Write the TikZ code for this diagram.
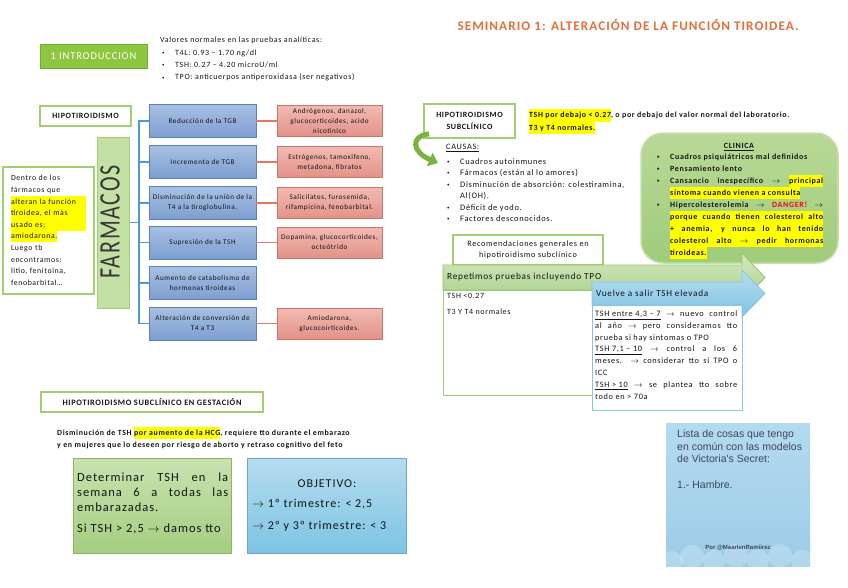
\documentclass[tikz,border=0pt]{standalone}
\usepackage{graphicx}
\usepackage{fontspec}
\setmainfont{Carlito}[LetterSpace=8]
\newfontfamily\tweetfont{Liberation Sans}
\usetikzlibrary{arrows.meta}

\definecolor{btngreen}{RGB}{141,198,63}
\definecolor{btnedge}{RGB}{118,172,52}
\definecolor{lightedge}{RGB}{160,206,112}
\definecolor{farmfill}{RGB}{197,224,165}
\definecolor{bluetop}{RGB}{168,192,226}
\definecolor{bluebot}{RGB}{124,158,208}
\definecolor{blueedge}{RGB}{92,130,185}
\definecolor{redtop}{RGB}{243,186,178}
\definecolor{redbot}{RGB}{226,146,136}
\definecolor{rededge}{RGB}{201,118,108}
\definecolor{treeblue}{RGB}{75,154,208}
\definecolor{linkred}{RGB}{224,123,95}
\definecolor{hlyellow}{RGB}{255,255,0}
\definecolor{titleorange}{RGB}{226,112,58}
\definecolor{clintop}{RGB}{184,217,150}
\definecolor{clinbot}{RGB}{160,204,122}
\definecolor{clinedge}{RGB}{196,224,168}
\definecolor{arrgrntop}{RGB}{212,233,193}
\definecolor{arrgrnbot}{RGB}{168,208,138}
\definecolor{arrgrnedge}{RGB}{150,196,110}
\definecolor{arrblutop}{RGB}{184,222,240}
\definecolor{arrblubot}{RGB}{126,194,226}
\definecolor{arrbluedge}{RGB}{140,196,222}
\definecolor{gestgrntop}{RGB}{200,226,176}
\definecolor{gestgrnbot}{RGB}{164,206,128}
\definecolor{gestgrnedge}{RGB}{140,182,100}
\definecolor{gestblutop}{RGB}{182,220,238}
\definecolor{gestblubot}{RGB}{124,196,228}
\definecolor{gestbluedge}{RGB}{110,164,200}
\definecolor{tweettop}{RGB}{180,218,240}
\definecolor{tweetbot}{RGB}{156,204,232}
\definecolor{tweettext}{RGB}{60,72,88}
\definecolor{curvegreen}{RGB}{122,180,62}
\definecolor{inktext}{RGB}{20,20,20}

\newcommand\hlt[1]{{\setlength{\fboxsep}{0pt}\colorbox{hlyellow}{\strut#1}}}
\newcommand\spr[2]{\makebox[#1][s]{#2}}
\newcommand\rarr{$\rightarrow$}
\newcommand\bul{\makebox[13pt][l]{\raisebox{0.6pt}{\scalebox{0.6}{\textbullet}}}}
\newcommand\fsbody{\fontsize{8}{12.3}\selectfont}
\newcommand\fsbox{\fontsize{7.2}{10}\selectfont}

\tikzset{
  btn/.style={fill=btngreen, draw=btnedge, line width=1pt, text=white,
    minimum width=107pt, minimum height=24pt, font=\fontsize{10.5}{12}\selectfont},
  whitebox/.style={draw=lightedge, line width=1.8pt, fill=white, align=center,
    text=inktext, font=\bfseries\fontsize{8}{12}\selectfont},
  farmbox/.style={draw=lightedge, line width=1pt, fill=farmfill,
    minimum width=32pt, minimum height=171pt},
  cause/.style={draw=blueedge, line width=0.6pt, top color=bluetop, bottom color=bluebot,
    minimum width=107pt, minimum height=33pt, inner sep=1pt, align=center,
    text=inktext, font=\fsbox},
  drug/.style={draw=rededge, line width=0.6pt, top color=redtop, bottom color=redbot,
    minimum width=105pt, minimum height=31pt, inner sep=1pt, align=center,
    text=inktext, font=\fsbox},
  treeline/.style={draw=treeblue, line width=1.6pt},
  druglink/.style={draw=linkred, line width=1.4pt},
  txt/.style={inner sep=0pt, anchor=north west, align=left, text=inktext, font=\fsbody},
  clinbox/.style={draw=clinedge, line width=1.5pt, top color=clintop, bottom color=clinbot,
    rounded corners=22pt, minimum width=197pt, minimum height=130pt},
  grnarrow/.style={draw=arrgrnedge, line width=0.8pt, top color=arrgrntop, bottom color=arrgrnbot},
  bluarrow/.style={draw=arrbluedge, line width=0.8pt, top color=arrblutop, bottom color=arrblubot},
  gestgrn/.style={draw=gestgrnedge, line width=0.8pt, top color=gestgrntop, bottom color=gestgrnbot,
    minimum width=158pt, minimum height=95pt},
  gestblu/.style={draw=gestbluedge, line width=0.8pt, top color=gestblutop, bottom color=gestblubot,
    minimum width=159pt, minimum height=95pt},
  curvearrow/.style={draw=curvegreen, line width=5pt, -{Triangle[length=9pt,width=14pt]}},
}

\begin{document}
\begin{tikzpicture}[x=1pt,y=-1pt]
  \path[use as bounding box, fill=white] (0,0) rectangle (848,587);

  % title and introduction
  \node[font=\bfseries\fontsize{13.2}{15}\selectfont, text=titleorange] (title) at (628,25) {SEMINARIO 1: ALTERACIÓN DE LA FUNCIÓN TIROIDEA.};
  \node[btn] (intro) at (93.5,56) {1 INTRODUCCION};
  \node[txt] (vals) at (160,37) {Valores normales en las pruebas analíticas:\\
    \hspace*{2pt}\bul T4L: 0.93 – 1.70 ng/dl\\
    \hspace*{2pt}\bul TSH: 0.27 – 4.20 microU/ml\\
    \hspace*{2pt}\bul TPO: anticuerpos antiperoxidasa (ser negativos)};

  % hipotiroidismo: farmacos
  \node[whitebox, minimum width=91pt, minimum height=20pt] (hipo) at (85.5,116) {HIPOTIROIDISMO};
  \node[whitebox, minimum width=91pt, minimum height=127pt, text width=75pt, align=left,
        font=\mdseries\fontsize{7.8}{11.6}\selectfont] (dentro) at (48.5,230.5) {%
    \spr{75pt}{Dentro de los}\\
    \spr{75pt}{fármacos que}\\
    \hlt{\spr{75pt}{alteran la función}}\\
    \hlt{\spr{75pt}{tiroidea, el más}}\\
    \hlt{\spr{75pt}{usado es:}}\\
    \hlt{amiodarona.}\\
    \spr{75pt}{Luego tb}\\
    encontramos:\\
    \spr{75pt}{litio, fenitoina,}\\
    fenobarbital…};
  \node[farmbox] (farm) at (113,222.5) {};
  \node[rotate=90, text=inktext!85, font=\fontsize{22}{22}\selectfont] (farmtxt) at (110,222) {\scalebox{1}[1.35]{FARMACOS}};

  \node[cause] (b1) at (202.5,121) {Reducción de la TGB};
  \node[cause] (b2) at (202.5,162) {Incremento de TGB};
  \node[cause] (b3) at (202.5,203) {Disminución de la unión de la\\ T4 a la tiroglobulina.};
  \node[cause] (b4) at (202.5,242.5) {Supresión de la TSH};
  \node[cause] (b5) at (202.5,283) {Aumento de catabolismo de\\ hormonas tiroideas};
  \node[cause] (b6) at (202.5,323.5) {Alteración de conversión de\\ T4 a T3};

  \node[drug] (r1) at (329.5,121) {Andrógenos, danazol,\\ glucocorticoides, acido\\ nicotínico};
  \node[drug] (r2) at (329.5,162) {Estrógenos, tamoxifeno,\\ metadona, fibratos};
  \node[drug] (r3) at (329.5,203) {Salicilatos, furosemida,\\ rifampicina, fenobarbital.};
  \node[drug] (r4) at (329.5,242.5) {Dopamina, glucocorticoides,\\ octeótrido};
  \node[drug] (r6) at (329.5,323.5) {Amiodarona,\\ glucocoirticoides.};

  \coordinate (hub) at (139,222.5);
  \draw[treeline] (farm.east) -- (hub);
  \draw[treeline] (b1.west) -| (hub) |- (b6.west);
  \draw[treeline] (b2.west) -- (b2.west -| hub);
  \draw[treeline] (b3.west) -- (b3.west -| hub);
  \draw[treeline] (b4.west) -- (b4.west -| hub);
  \draw[treeline] (b5.west) -- (b5.west -| hub);
  \draw[druglink] (b1) -- (r1);
  \draw[druglink] (b2) -- (r2);
  \draw[druglink] (b3) -- (r3);
  \draw[druglink] (b4) -- (r4);
  \draw[druglink] (b6) -- (r6);

  % hipotiroidismo subclinico
  \node[whitebox, minimum width=91pt, minimum height=34pt] (subc) at (469.5,121) {HIPOTIROIDISMO\\ SUBCLÍNICO};
  \node[txt, font=\bfseries\fontsize{7.9}{12.5}\selectfont] (tshdef) at (529,109) {\hlt{TSH por debajo < 0.27}, o por debajo del valor normal del laboratorio.\\ \hlt{T3 y T4 normales.}};
  \node[txt, anchor=west, font=\fontsize{8.3}{11.5}\selectfont] (causas) at (446,148) {\underline{CAUSAS:}};
  \node[txt, font=\fontsize{8.4}{11.5}\selectfont] (causelist) at (447,158) {\bul Cuadros autoinmunes\\
    \bul Fármacos (están al lo amores)\\
    \bul Disminución de absorción: colestiramina,\\
    \hspace*{13pt}Al(OH).\\
    \bul Déficit de yodo.\\
    \bul Factores desconocidos.};
  \coordinate (causetip) at (438,163);
  \draw[curvearrow] ([xshift=6pt,yshift=5pt]subc.south west) .. controls (410,136) and (412,152) .. (causetip);

  \node[clinbox] (clin) at (739.5,198) {};
  \node[font=\bfseries\fontsize{8}{12}\selectfont, text=inktext] (clintitle) at (739,147) {\underline{CLINICA}};
  \node[txt, font=\bfseries\fontsize{8}{12}\selectfont] (clinlist) at (657,153.5) {\bul Cuadros psiquiátricos mal definidos\\
    \bul Pensamiento lento\\
    \bul\spr{153pt}{Cansancio inespecífico \rarr{} \hlt{principal}}\\
    \hspace*{13pt}\hlt{síntoma cuando vienen a consulta}\\
    \bul\spr{153pt}{Hipercolesterolemia \rarr{} \textcolor{red}{DANGER!} \rarr}\\
    \hspace*{13pt}\hlt{\spr{153pt}{porque cuando tienen colesterol alto}}\\
    \hspace*{13pt}\hlt{\spr{153pt}{+ anemia, y nunca lo han tenido}}\\
    \hspace*{13pt}\hlt{\spr{153pt}{colesterol alto \rarr{} pedir hormonas}}\\
    \hspace*{13pt}\hlt{tiroideas.}};

  \node[whitebox, minimum width=150pt, minimum height=30pt, font=\fontsize{8.2}{11}\selectfont] (recom) at (528,250) {Recomendaciones generales en\\ hipotiroidismo subclínico};
  \node[whitebox, line width=1.2pt, anchor=north west, minimum width=157pt, minimum height=105pt] (repbox) at (443,290) {};
  \node[txt, font=\fontsize{8}{16}\selectfont] (repres) at (447,293) {TSH <0.27\\ T3 Y T4 normales};
  \path[grnarrow] (443,265) -- (742,265) -- (742,253) -- (765,277.5) -- (742,302) -- (742,290) -- (443,290) -- cycle;
  \node[txt, anchor=west, font=\fontsize{9.3}{10}\selectfont] (repet) at (447,277.5) {Repetimos pruebas incluyendo TPO};
  \node[draw=arrbluedge, line width=1.2pt, fill=white, anchor=north west, minimum width=150pt, minimum height=105pt] (highbox) at (592,305) {};
  \path[bluarrow] (592,282) -- (742,282) -- (742,270) -- (765,293.5) -- (742,317) -- (742,305) -- (592,305) -- cycle;
  \node[txt, anchor=west, font=\fontsize{9.2}{10}\selectfont] (elev) at (596,293.5) {Vuelve a salir TSH elevada};
  \node[txt, font=\fontsize{8.3}{11.8}\selectfont] (highlist) at (595,310.5) {%
    \spr{142pt}{\underline{TSH entre 4,3 – 7} \rarr{} nuevo control}\\
    \spr{142pt}{al año \rarr{} pero consideramos tto}\\
    prueba si hay sintomas o TPO\\
    \spr{142pt}{\underline{TSH 7,1 – 10} \rarr{} control a los 6}\\
    \spr{142pt}{meses. \rarr{} considerar tto si TPO o}\\
    ICC\\
    \spr{142pt}{\underline{TSH > 10} \rarr{} se plantea tto sobre}\\
    todo en > 70a};

  % gestacion
  \node[whitebox, minimum width=222pt, minimum height=20pt, font=\bfseries\fontsize{8.3}{10}\selectfont] (gest) at (152,402) {HIPOTIROIDISMO SUBCLÍNICO EN GESTACIÓN};
  \node[txt, font=\bfseries\fontsize{7.9}{12}\selectfont] (hcg) at (57,426.5) {Disminución de TSH \hlt{por aumento de la HCG}, requiere tto durante el embarazo\\ y en mujeres que lo deseen por riesgo de aborto y retraso cognitivo del feto};
  \node[gestgrn] (tshbox) at (152,505.5) {};
  \node[txt, font=\fontsize{12.5}{15}\selectfont] (tshtxt) at (77,472.5) {\spr{151pt}{Determinar TSH en la}\\
    \spr{151pt}{semana 6 a todas las}\\
    embarazadas.\\[6pt]
    Si TSH > 2,5 \rarr{} damos tto};
  \node[gestblu] (objbox) at (326.5,505.5) {};
  \node[font=\fontsize{12}{13}\selectfont, text=inktext] (objtitle) at (327,484) {OBJETIVO:};
  \node[txt, font=\fontsize{12}{21.5}\selectfont] (objlist) at (252,499.5) {\rarr{} 1º trimestre: < 2,5\\ \rarr{} 2º y 3º trimestre: < 3};

  % tweet
  \node[top color=tweettop, bottom color=tweetbot, minimum width=144pt, minimum height=143pt] (tweet) at (738,494.5) {};
  \begin{scope}
    \clip (666,423) rectangle (810,566);
    \fill[white, opacity=0.22] (672,562) circle (11pt);
    \fill[white, opacity=0.22] (692,557) circle (12pt);
    \fill[white, opacity=0.22] (714,561) circle (11pt);
    \fill[white, opacity=0.22] (736,556) circle (12pt);
    \fill[white, opacity=0.22] (758,560) circle (11pt);
    \fill[white, opacity=0.22] (780,556) circle (12pt);
    \fill[white, opacity=0.22] (802,561) circle (11pt);
  \end{scope}
  \node[txt, text=tweettext, font=\tweetfont\fontsize{10.5}{12.4}\selectfont] (tweettxt) at (677,430) {Lista de cosas que tengo\\ en común con las modelos\\ de Victoria's Secret:\\[13pt] 1.- Hambre.};
  \node[text=tweettext, font=\tweetfont\bfseries\fontsize{6}{7}\selectfont] (tweetby) at (738,548) {Por @MaarlenRamiirez};
\end{tikzpicture}
\end{document}
